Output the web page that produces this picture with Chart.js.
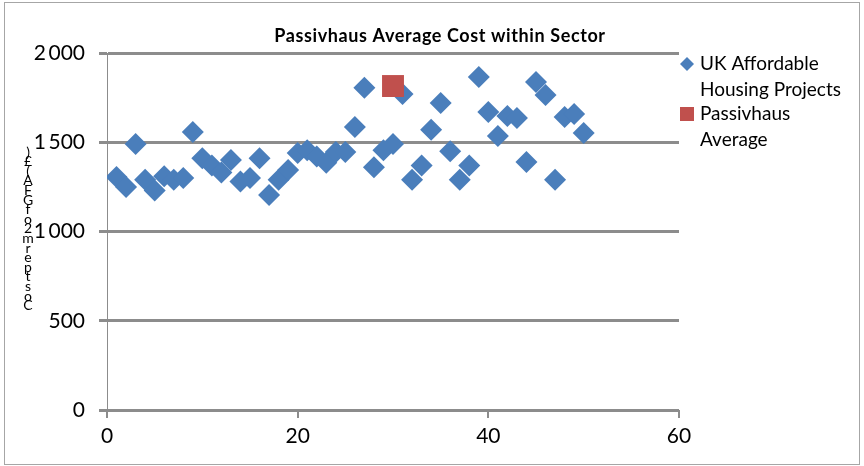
<!DOCTYPE html>
<html>
<head>
<meta charset="utf-8">
<title>Passivhaus Average Cost within Sector</title>
<script src="https://cdn.jsdelivr.net/npm/chart.js@4.4.1/dist/chart.umd.min.js"></script>
<style>
  html, body { margin: 0; padding: 0; background: #ffffff; }
  #wrap { width: 864px; height: 466px; position: relative; }
</style>
</head>
<body>
<div id="wrap"><canvas id="costChart" width="864" height="466"></canvas></div>
<script>
// Project number (x) and cost per m2 (y)
const projectNumbers = [1, 2, 3, 4, 5, 6, 7, 8, 9, 10,
    11, 12, 13, 14, 15, 16, 17, 18, 19, 20,
    21, 22, 23, 24, 25, 26, 27, 28, 29, 30,
    31, 32, 33, 34, 35, 36, 37, 38, 39, 40,
    41, 42, 43, 44, 45, 46, 47, 48, 49, 50];
const projectCosts = [1305, 1250, 1490, 1290, 1230, 1310, 1290, 1300, 1557, 1410,
    1370, 1330, 1400, 1280, 1300, 1410, 1205, 1290, 1345, 1440,
    1455, 1420, 1385, 1445, 1445, 1585, 1805, 1360, 1455, 1490,
    1770, 1290, 1370, 1570, 1720, 1450, 1290, 1370, 1865, 1670,
    1535, 1647, 1636, 1390, 1838, 1765, 1290, 1641, 1658, 1552];
const passivhausX = [30];
const passivhausCost = [1815];

const xTicks = [0, 20, 40, 60];
const yTicks = [0, 500, 1000, 1500, 2000];

const chartTitle = 'Passivhaus Average Cost within Sector';
const yAxisLabel = 'Cost per m2 of GFA (£)';
const legendItems = [
    { lines: ['UK Affordable', 'Housing Projects'], color: '#4a7ebb', shape: 'diamond' },
    { lines: ['Passivhaus', 'Average'], color: '#c0504d', shape: 'square' }
];

const FONT = 'Lato, "Open Sans", "Noto Sans", sans-serif';

// Frame, title, legend and the stacked y label, drawn like the original sheet chart
const decorPlugin = {
    id: 'decor',
    beforeDraw(chart) {
        const ctx = chart.ctx;
        ctx.save();
        ctx.fillStyle = '#ffffff';
        ctx.fillRect(0, 0, chart.width, chart.height);
        ctx.strokeStyle = '#a6a6a6';
        ctx.lineWidth = 1;
        ctx.strokeRect(4.5, 2.5, 855, 462);
        ctx.restore();
    },
    afterDraw(chart) {
        const ctx = chart.ctx;
        ctx.save();

        // title
        ctx.fillStyle = '#000000';
        ctx.font = 'bold 18px ' + FONT;
        ctx.letterSpacing = '0.6px';
        ctx.textAlign = 'center';
        ctx.textBaseline = 'middle';
        ctx.fillText(chartTitle, 440, 36);
        ctx.letterSpacing = '0px';

        // y label, one glyph under the other, read bottom to top
        const glyphs = yAxisLabel.replace(/ /g, '').split('').reverse();
        ctx.font = '14px ' + FONT;
        glyphs.forEach((g, i) => {
            ctx.fillText(g, 28, 152 + i * 9.6);
        });

        // legend
        ctx.textAlign = 'left';
        ctx.font = '19px ' + FONT;
        let y = 64;
        legendItems.forEach(item => {
            ctx.fillStyle = item.color;
            if (item.shape === 'diamond') {
                ctx.beginPath();
                ctx.moveTo(687, y - 7);
                ctx.lineTo(694, y);
                ctx.lineTo(687, y + 7);
                ctx.lineTo(680, y);
                ctx.closePath();
                ctx.fill();
            } else {
                ctx.fillRect(680, y - 7, 14, 14);
            }
            ctx.fillStyle = '#000000';
            item.lines.forEach((line, j) => {
                ctx.fillText(line, 700, y + j * 26);
            });
            y += 50;
        });
        ctx.restore();
    }
};

new Chart(document.getElementById('costChart'), {
    type: 'scatter',
    data: {
        datasets: [
            {
                label: 'UK Affordable Housing Projects',
                data: projectNumbers.map((x, i) => ({ x: x, y: projectCosts[i] })),
                pointStyle: 'rectRot',
                pointRadius: 11,
                pointHoverRadius: 11,
                backgroundColor: '#4a7ebb',
                borderWidth: 0,
                order: 1
            },
            {
                label: 'Passivhaus Average',
                data: passivhausX.map((x, i) => ({ x: x, y: passivhausCost[i] })),
                pointStyle: 'rect',
                pointRadius: 15.5,
                pointHoverRadius: 15.5,
                backgroundColor: '#c0504d',
                borderWidth: 0,
                order: 0
            }
        ]
    },
    options: {
        responsive: false,
        animation: false,
        layout: { padding: { left: 0, top: 53, right: 185, bottom: 0 } },
        scales: {
            x: {
                type: 'linear',
                min: 0,
                max: 60,
                afterFit: s => { s.height = 56; },
                afterBuildTicks: s => { s.ticks = xTicks.map(v => ({ value: v })); },
                grid: {
                    drawOnChartArea: false,
                    drawTicks: true,
                    tickLength: 8,
                    color: '#8c8c8c',
                    lineWidth: 2
                },
                border: { display: false },
                ticks: {
                    color: '#000000',
                    padding: 6,
                    font: { family: FONT, size: 21 }
                }
            },
            y: {
                min: 0,
                max: 2000,
                afterFit: s => { s.width = 107; },
                afterBuildTicks: s => { s.ticks = yTicks.map(v => ({ value: v })); },
                grid: {
                    drawTicks: true,
                    tickLength: 8,
                    color: '#8c8c8c',
                    lineWidth: 3
                },
                border: { display: true, color: '#8c8c8c', width: 1 },
                ticks: {
                    color: '#000000',
                    padding: 14,
                    font: { family: FONT, size: 21 },
                    callback: v => v >= 1000 ? String(v).replace(/^(\d)/, '$1\u2009') : String(v)
                }
            }
        },
        plugins: {
            legend: { display: false },
            title: { display: false },
            tooltip: { enabled: false }
        }
    },
    plugins: [decorPlugin]
});
</script>
</body>
</html>
